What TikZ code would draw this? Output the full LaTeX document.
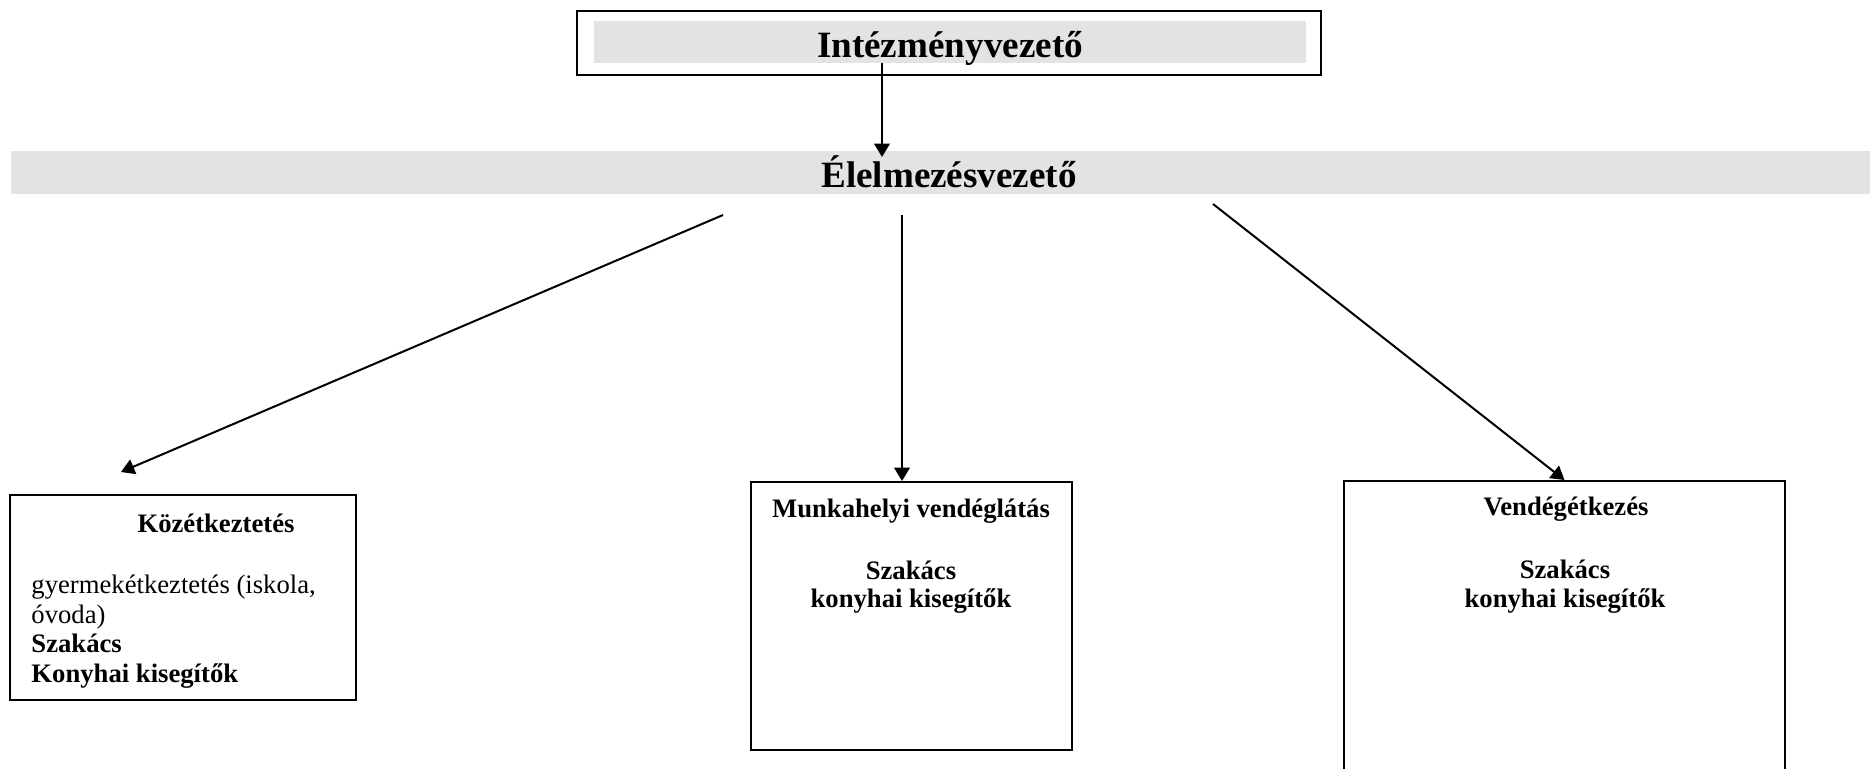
\documentclass[tikz,border=0pt]{standalone}
\usepackage{fontspec}
\setmainfont{Liberation Serif}
\usetikzlibrary{arrows.meta}

\definecolor{savszurke}{HTML}{E3E3E3}

\tikzset{
  doboz/.style={draw, line width=0.9pt, inner sep=0pt},
  nyil/.style={-{Triangle[length=6pt,width=7pt]}, line width=0.9pt},
  cimsor/.style={font=\fontsize{16.7}{20}\selectfont\bfseries},
  felirat/.style={font=\fontsize{12}{14}\selectfont\bfseries},
  sima/.style={font=\fontsize{12}{14}\selectfont},
}

\begin{document}
\begin{tikzpicture}[x=0.45pt, y=-0.45pt]
  \useasboundingbox (0,0) rectangle (1870,768);

  % keretek es savok
  \node[doboz, minimum width=334.8pt, minimum height=28.8pt] (ivkeret) at (949,43) {};
  \node[fill=savszurke, inner sep=0pt, minimum width=320.4pt, minimum height=18.9pt] (iv) at (950,42) {};
  \node[fill=savszurke, inner sep=0pt, minimum width=844.7pt, minimum height=19.4pt] (elv) at (949.5,172.5) {};
  \node[doboz, minimum width=155.7pt, minimum height=92.3pt] (kozt) at (183,597.5) {};
  \node[doboz, minimum width=144.5pt, minimum height=120.6pt] (munka) at (911.5,616) {};
  \node[doboz, minimum width=198.5pt, minimum height=143.1pt] (vendeg) at (1564.5,640) {};

  % szovegek
  \begin{scope}[every node/.style={anchor=base, inner sep=0pt}]
    \node[cimsor] (iv-cim)  at (950,57)  {Intézményvezető};
    \node[cimsor] (elv-cim) at (949,187) {Élelmezésvezető};

    \node[felirat] (k0) at (216,532) {Közétkeztetés};
    \node[sima, anchor=base west]    (k1) at (31,593) {gyermekétkeztetés (iskola,};
    \node[sima, anchor=base west]    (k2) at (31,623) {óvoda)};
    \node[felirat, anchor=base west] (k3) at (31,652) {Szakács};
    \node[felirat, anchor=base west] (k4) at (31,682) {Konyhai kisegítők};

    \node[felirat] (m0) at (911,517) {Munkahelyi vendéglátás};
    \node[felirat] (m1) at (911,579) {Szakács};
    \node[felirat] (m2) at (911,607) {konyhai kisegítők};

    \node[felirat] (v0) at (1566,515) {Vendégétkezés};
    \node[felirat] (v1) at (1565,578) {Szakács};
    \node[felirat] (v2) at (1565,607) {konyhai kisegítők};
  \end{scope}

  % nyilak
  \coordinate (iv-ki)    at (882,63);
  \coordinate (elv-be)   at (882,157);
  \coordinate (bal-ki)   at (723,215);
  \coordinate (bal-be)   at (121,472);
  \coordinate (kozep-ki) at (902,215);
  \coordinate (jobb-ki)  at (1213,204);

  \draw[nyil] (iv-ki) -- (elv-be);
  \draw[nyil] (bal-ki) -- (bal-be);
  \draw[nyil] (kozep-ki) -- (kozep-ki |- munka.north);
  \draw[nyil] (jobb-ki) -- (vendeg.north);

\end{tikzpicture}
\end{document}
